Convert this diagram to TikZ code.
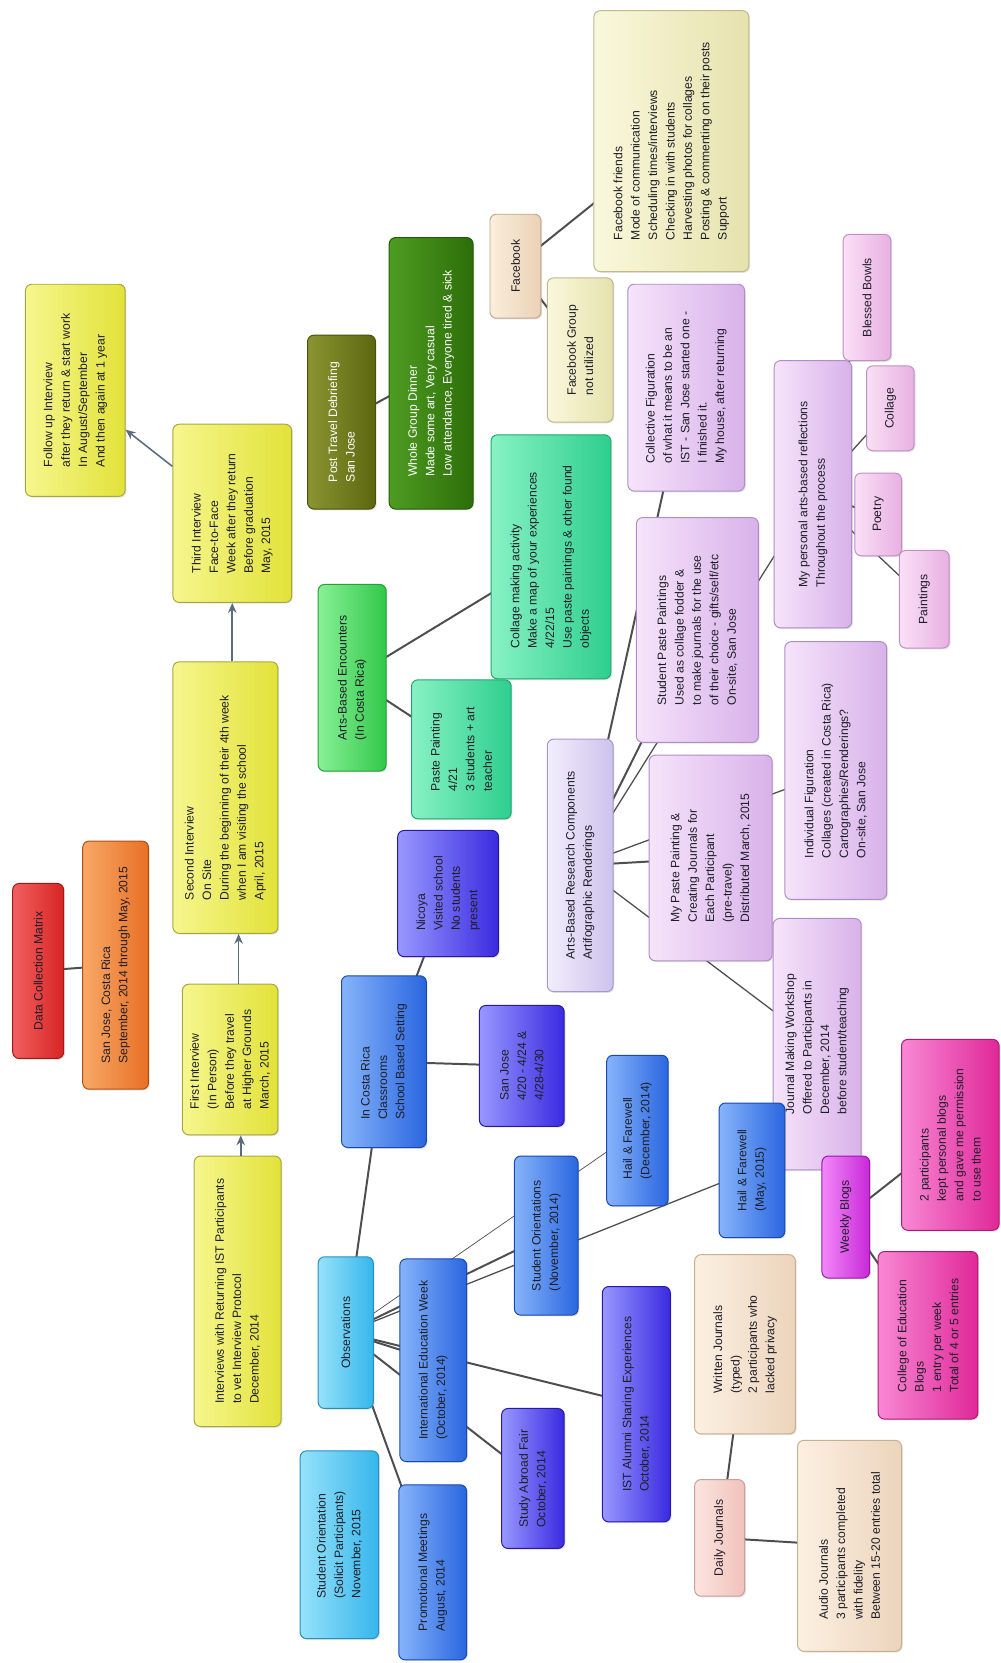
\documentclass[tikz,border=0pt]{standalone}
\usepackage{fontspec}
\setmainfont{Liberation Sans}
\usetikzlibrary{shadows,arrows.meta}
\pgfdeclarelayer{bgA}\pgfdeclarelayer{bgB}
\pgfsetlayers{bgA,bgB,main}
% palette: light (A), dark (B), border (D)
\definecolor{yelA}{HTML}{F6F68E}\definecolor{yelB}{HTML}{E2E23A}\definecolor{yelD}{HTML}{A8A840}
\definecolor{redA}{HTML}{F26060}\definecolor{redB}{HTML}{D82424}\definecolor{redD}{HTML}{A01818}
\definecolor{orA}{HTML}{F8A868}\definecolor{orB}{HTML}{E87024}\definecolor{orD}{HTML}{B05010}
\definecolor{olA}{HTML}{8A9432}\definecolor{olB}{HTML}{5C6810}\definecolor{olD}{HTML}{48520A}
\definecolor{dgA}{HTML}{4E9C22}\definecolor{dgB}{HTML}{2C6E08}\definecolor{dgD}{HTML}{245A06}
\definecolor{grA}{HTML}{88F096}\definecolor{grB}{HTML}{32C84A}\definecolor{grD}{HTML}{28A038}
\definecolor{tlA}{HTML}{88F2C4}\definecolor{tlB}{HTML}{2ECE8E}\definecolor{tlD}{HTML}{20A870}
\definecolor{crA}{HTML}{FAF8DC}\definecolor{crB}{HTML}{E6E2AE}\definecolor{crD}{HTML}{BEBA8E}
\definecolor{tnA}{HTML}{FAEEDC}\definecolor{tnB}{HTML}{EAD2B6}\definecolor{tnD}{HTML}{C0A888}
\definecolor{lvA}{HTML}{F2EEFC}\definecolor{lvB}{HTML}{CEC2EC}\definecolor{lvD}{HTML}{A898C8}
\definecolor{puA}{HTML}{F6E4FA}\definecolor{puB}{HTML}{D8B2EA}\definecolor{puD}{HTML}{AE8EC6}
\definecolor{pkA}{HTML}{FAE0F6}\definecolor{pkB}{HTML}{E8B0E2}\definecolor{pkD}{HTML}{C090C0}
\definecolor{cyA}{HTML}{96E2FA}\definecolor{cyB}{HTML}{36B6EC}\definecolor{cyD}{HTML}{2890C0}
\definecolor{blA}{HTML}{86B4FA}\definecolor{blB}{HTML}{2A66E0}\definecolor{blD}{HTML}{1848B0}
\definecolor{inA}{HTML}{9898FF}\definecolor{inB}{HTML}{3A2AE0}\definecolor{inD}{HTML}{2818A8}
\definecolor{mgA}{HTML}{F288F8}\definecolor{mgB}{HTML}{C828D8}\definecolor{mgD}{HTML}{9818A8}
\definecolor{ppA}{HTML}{F888D4}\definecolor{ppB}{HTML}{E02898}\definecolor{ppD}{HTML}{B01878}
\definecolor{pcA}{HTML}{FCF0E2}\definecolor{pcB}{HTML}{ECD4BC}\definecolor{pcD}{HTML}{C8B090}
\definecolor{djA}{HTML}{FCE4E0}\definecolor{djB}{HTML}{F0C2BA}\definecolor{djD}{HTML}{C8A098}
\definecolor{txt}{HTML}{1E1E28}
\definecolor{lnk}{HTML}{4E4E4E}
\definecolor{arrc}{HTML}{5A6C7E}
\tikzset{
  bx/.style={rectangle, rounded corners=4.5pt, rotate=90, align=left, inner sep=2pt,
    font=\fontsize{8.6}{12.3}\selectfont, text=txt, line width=0.7pt,
    drop shadow={opacity=0.22, shadow xshift=0.9pt, shadow yshift=-0.9pt}},
  pal/.style n args={3}{left color=#1, right color=#2, draw=#3},
  yel/.style={pal={yelA}{yelB}{yelD}},
  red/.style={pal={redA}{redB}{redD}},
  ora/.style={pal={orA}{orB}{orD}},
  oli/.style={pal={olA}{olB}{olD}, text=white},
  dgr/.style={pal={dgA}{dgB}{dgD}, text=white},
  gre/.style={pal={grA}{grB}{grD}},
  tea/.style={pal={tlA}{tlB}{tlD}},
  cre/.style={pal={crA}{crB}{crD}},
  tan/.style={pal={tnA}{tnB}{tnD}},
  lav/.style={pal={lvA}{lvB}{lvD}},
  pur/.style={pal={puA}{puB}{puD}},
  pnk/.style={pal={pkA}{pkB}{pkD}},
  cya/.style={pal={cyA}{cyB}{cyD}},
  blu/.style={pal={blA}{blB}{blD}},
  ind/.style={pal={inA}{inB}{inD}},
  mag/.style={pal={mgA}{mgB}{mgD}},
  hpk/.style={pal={ppA}{ppB}{ppD}},
  pea/.style={pal={pcA}{pcB}{pcD}},
  djc/.style={pal={djA}{djB}{djD}},
  link/.style={draw=lnk, line width=1.4pt},
  mlink/.style={draw=lnk, line width=0.9pt},
  tlink/.style={draw=lnk, line width=0.5pt},
  arr/.style={draw=arrc, line width=1.1pt, -{Stealth[length=7pt,width=6pt]}},
}
% \bx{name}{style}{x1}{x2}{y1}{y2}{text}
\newcommand\bx[7]{\node[bx,#2,minimum height={(#4-#3)*0.75pt},minimum width={(#6-#5)*0.75pt}] (#1) at ({(#3+#4)/2},{(#5+#6)/2}) {#7};}
\begin{document}
\begin{tikzpicture}[x=0.75pt,y=-0.75pt]
\useasboundingbox (0,0) rectangle (943,1568);
\begin{pgfonlayer}{bgA}\fill[white] (0,0) rectangle (943,1568);\end{pgfonlayer}

% interviews
\bx{fu}{yel}{24}{118}{268}{468}{Follow up Interview\\after they return \& start work\\In August/September\\And then again at 1 year}
\bx{third}{yel}{163}{275}{400}{568}{Third Interview\\Face-to-Face\\Week after they return\\Before graduation\\May, 2015}
\bx{second}{yel}{163}{262}{624}{880}{Second Interview\\On Site\\During the beginning of their 4th week\\when I am visiting the school\\April, 2015}
\bx{first}{yel}{172}{262}{928}{1070}{First Interview\\(In Person)\\Before they travel\\at Higher Grounds\\March, 2015}
\bx{ivw}{yel}{183}{265}{1090}{1345}{Interviews with Returning IST Participants\\to vet Interview Protocol\\December, 2014}
\bx{dcm}{red}{12}{60}{833}{998}{Data Collection Matrix}
\bx{sjcr}{ora}{78}{140}{793}{1027}{San Jose, Costa Rica\\September, 2014 through May, 2015}

% green
\bx{ptd}{oli}{290}{354}{316}{480}{Post Travel Debriefing\\San Jose}
\bx{wgd}{dgr}{367}{446}{224}{480}{Whole Group Dinner\\Made some art, Very casual\\Low attendance, Everyone tired \& sick}
\bx{fb}{tan}{462}{510}{202}{300}{Facebook}
\bx{fbf}{cre}{560}{706}{10}{256}{Facebook friends\\Mode of communication\\Scheduling times/interviews\\Checking in with students\\Harvesting photos for collages\\Posting \& commenting on their posts\\Support}
\bx{fbg}{cre}{516}{578}{262}{398}{Facebook Group\\not utilized}
\bx{abe}{gre}{300}{364}{551}{727}{Arts-Based Encounters\\(In Costa Rica)}
\bx{cma}{tea}{463}{576}{410}{640}{Collage making activity\\Make a map of your experiences\\4/22/15\\Use paste paintings \& other found\\objects}
\bx{pp}{tea}{388}{482}{641}{772}{Paste Painting\\4/21\\3 students + art\\teacher}

% purple
\bx{abr}{lav}{516}{578}{697}{935}{Arts-Based Research Components\\Artifographic Renderings}
\bx{cf}{pur}{592}{702}{268}{463}{Collective Figuration\\of what it means to be an\\IST - San Jose started one -\\I finished it.\\My house, after returning}
\bx{spp}{pur}{600}{715}{488}{700}{Student Paste Paintings\\Used as collage fodder \&\\to make journals for the use\\of their choice - gifts/self/etc\\On-site, San Jose}
\bx{mpp}{pur}{612}{728}{712}{906}{My Paste Painting \&\\Creating Journals for\\Each Participant\\(pre-travel)\\Distributed March, 2015}
\bx{indf}{pur}{740}{836}{605}{848}{Individual Figuration\\Collages (created in Costa Rica)\\Cartographies/Renderings?\\On-site, San Jose}
\bx{jmw}{pur}{729}{812}{866}{1103}{Journal Making Workshop\\Offered to Participants in\\December, 2014\\before student/teaching}
\bx{mpr}{pur}{730}{803}{340}{592}{My personal arts-based reflections\\Throughout the process}
\bx{bb}{pnk}{795}{840}{221}{340}{Blessed Bowls}
\bx{col}{pnk}{817}{862}{345}{425}{Collage}
\bx{poe}{pnk}{806}{850}{446}{524}{Poetry}
\bx{pai}{pnk}{848}{895}{519}{611}{Paintings}

% blue
\bx{so15}{cya}{283}{357}{1368}{1545}{Student Orientation\\(Solicit Participants)\\November, 2015}
\bx{obs}{cya}{300}{352}{1185}{1328}{Observations}
\bx{pm}{blu}{376}{440}{1400}{1565}{Promotional Meetings\\August, 2014}
\bx{iew}{blu}{377}{440}{1187}{1378}{International Education Week\\(October, 2014)}
\bx{icr}{blu}{322}{402}{920}{1082}{In Costa Rica\\Classrooms\\School Based Setting}
\bx{nic}{ind}{375}{470}{783}{902}{Nicoya\\Visited school\\No students\\present}
\bx{sj}{ind}{452}{532}{948}{1062}{San Jose\\4/20 - 4/24 \&\\4/28-4/30}
\bx{saf}{ind}{473}{532}{1328}{1460}{Study Abroad Fair\\October, 2014}
\bx{so14}{blu}{485}{545}{1090}{1240}{Student Orientations\\(November, 2014)}
\bx{ist}{ind}{568}{632}{1213}{1435}{IST Alumni Sharing Experiences\\October, 2014}
\bx{hfd}{blu}{572}{630}{995}{1137}{Hail \& Farewell\\(December, 2014)}
\bx{hfm}{blu}{678}{740}{1040}{1167}{Hail \& Farewell\\(May, 2015)}

% journals / blogs
\bx{wb}{mag}{775}{820}{1090}{1205}{Weekly Blogs}
\bx{tp}{hpk}{850}{942}{980}{1160}{2 participants\\kept personal blogs\\and gave me permission\\to use them}
\bx{ceb}{hpk}{828}{922}{1180}{1338}{College of Education\\Blogs\\1 entry per week\\Total of 4 or 5 entries}
\bx{wj}{pea}{655}{750}{1183}{1352}{Written Journals\\(typed)\\2 participants who\\lacked privacy}
\bx{dj}{djc}{655}{702}{1395}{1505}{Daily Journals}
\bx{aj}{pea}{752}{850}{1358}{1557}{Audio Journals\\3 participants completed\\with fidelity\\Between 15-20 entries total}

% arrow columns
\coordinate (ax1) at (227,0);
\coordinate (ax2) at (225,0);
\coordinate (ax3) at (219,0);
\draw[arr] (ivw.east -| ax1) -- (first.west -| ax1);
\draw[arr] (first.east -| ax2) -- (second.west -| ax2);
\draw[arr] (second.east -| ax3) -- (third.west -| ax3);
\draw[arr] (third) -- (fu);

\begin{pgfonlayer}{bgB}
\draw[link] (dcm.center) -- (sjcr.center);
\draw[link] (ptd.center) -- (wgd.center);
\draw[link] (fb.center) -- (fbf.center);
\draw[link] (fb.center) -- (fbg.center);
\draw[link] (abe.center) -- (cma.center);
\draw[link] (abe.center) -- (pp.center);
\draw[link] (abr.center) -- (spp.center);
\draw[link] (abr.center) -- (cf.center);
\draw[link] (abr.center) -- (mpp.center);
\draw[mlink] (abr.center) -- (mpr.center);
\draw[mlink] (abr.center) -- (indf.center);
\draw[mlink] (abr.center) -- (jmw.center);
\draw[mlink] (mpr.center) -- (bb.center);
\draw[mlink] (mpr.center) -- (col.center);
\draw[link] (mpr.center) -- (poe.center);
\draw[mlink] (mpr.center) -- (pai.center);
\draw[link] (obs.center) -- (iew.center);
\draw[link] (obs.center) -- (so14.center);
\draw[link] (obs.center) -- (saf.center);
\draw[link] (obs.center) -- (ist.center);
\draw[tlink] (obs.center) -- (hfd.center);
\draw[mlink] (obs.center) -- (hfm.center);
\draw[link] (obs.center) -- (pm.center);
\draw[link] (obs.center) -- (icr.center);
\draw[link] (icr.center) -- (nic.center);
\draw[link] (icr.center) -- (sj.center);
\draw[link] (dj.center) -- (wj.center);
\draw[link] (dj.center) -- (aj.center);
\draw[link] (wb.center) -- (tp.center);
\draw[link] (wb.center) -- (ceb.center);
\end{pgfonlayer}
\end{tikzpicture}
\end{document}
